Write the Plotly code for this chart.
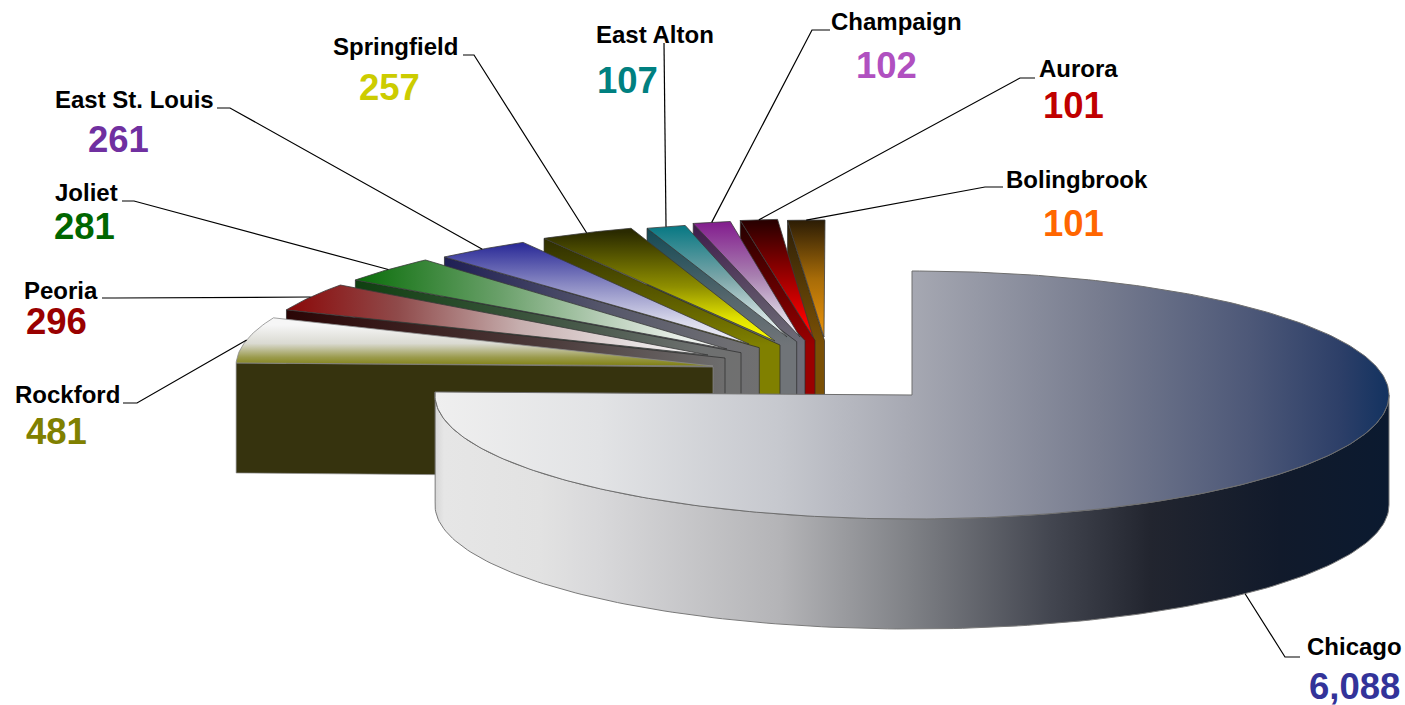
import math
import plotly.graph_objects as go

# ---- data
cities = ["Chicago", "Rockford", "Peoria", "Joliet", "East St. Louis", "Springfield",
          "East Alton", "Champaign", "Aurora", "Bolingbrook"]
values = [6088, 481, 296, 281, 261, 257, 107, 102, 101, 101]
value_labels = ["6,088", "481", "296", "281", "261", "257", "107", "102", "101", "101"]
value_colors = ["#333399", "#808000", "#990000", "#006600", "#7030A0", "#CCCC00",
                "#008080", "#B050C0", "#C00000", "#FF6600"]

# ---- layout of the exploded pie (page pixels)
W, H = 1405, 705
RX, RY, DEPTH = 477, 124, 110
apex = {"Chicago": (912, 395), "Rockford": (713, 366), "Peoria": (726, 358), "Joliet": (741, 353),
        "East St. Louis": (760, 350), "Springfield": (781, 346), "East Alton": (797, 346),
        "Champaign": (805, 344), "Aurora": (815, 343), "Bolingbrook": (825, 344)}
corner = {"Rockford": (713, 367), "Peoria": (725, 358), "Joliet": (741, 352.7), "East St. Louis": (759.3, 347.7),
          "Springfield": (780, 345), "East Alton": (796.7, 341.7), "Champaign": (805, 340.5),
          "Aurora": (815, 340.5), "Bolingbrook": (824.5, 340.5)}
tip = {"Rockford": (713, 366), "Peoria": (708, 355), "Joliet": (727, 349), "East St. Louis": (749, 344),
       "Springfield": (775, 341), "East Alton": (787, 337), "Champaign": (800, 337),
       "Aurora": (813, 337), "Bolingbrook": (824, 337)}
name_pos = {"Chicago": (1354, 646), "Rockford": (67, 394), "Peoria": (61, 290), "Joliet": (86, 192),
            "East St. Louis": (134, 99), "Springfield": (395, 46), "East Alton": (655, 34),
            "Champaign": (896, 21), "Aurora": (1078, 68), "Bolingbrook": (1077, 179)}
value_pos = {"Chicago": (1354, 686), "Rockford": (56, 431), "Peoria": (56, 321), "Joliet": (84, 226),
             "East St. Louis": (118, 139), "Springfield": (389, 87), "East Alton": (627, 80),
             "Champaign": (886, 65), "Aurora": (1073, 105), "Bolingbrook": (1073, 223)}
leader_start = {"Chicago": [(1300, 657), (1285, 657)], "Rockford": [(123, 403), (137, 403)],
                "Peoria": [(102, 298), (115, 298)], "Joliet": [(122, 201), (134, 201)],
                "East St. Louis": [(217, 108), (230, 108)], "Springfield": [(463, 55), (474, 55)],
                "East Alton": [(664, 43)], "Champaign": [(830, 30), (812, 30)],
                "Aurora": [(1035, 78), (1020, 78)], "Bolingbrook": [(1003, 187), (985, 187)]}
# face styles: orientation, start, stop, colour stops
top_style = {
    "Rockford": ("vertical", 325, 366, [(0, "#f6f6f6"), (.45, "#dadad2"), (.78, "#9c9c50"), (1, "#7f7f10")]),
    "Peoria": ("horizontal", 287, 710, [(0, "#8b0808"), (.26, "#8f4a4a"), (.55, "#c6aeae"), (.83, "#e8e2e2"), (1, "#f8f8f8")]),
    "Joliet": ("horizontal", 356, 727, [(0, "#0a6e0a"), (.39, "#6aa06a"), (.66, "#b5ccb5"), (.87, "#e8eee8"), (1, "#f8f8f8")]),
    "East St. Louis": ("vertical", 245, 347, [(0, "#2d2d99"), (.4, "#8c8cc4"), (.75, "#d8d8ea"), (1, "#f6f6fa")]),
    "Springfield": ("vertical", 232, 342, [(0, "#2a2a00"), (.5, "#8f8f00"), (.78, "#e0e000"), (1, "#ffff00")]),
    "East Alton": ("vertical", 228, 340, [(0, "#0b7a85"), (.45, "#7ba5a8"), (.8, "#d0e0e0"), (1, "#f4f8f8")]),
    "Champaign": ("vertical", 224, 340, [(0, "#84208f"), (.45, "#a880b0"), (.8, "#dcd4e2"), (1, "#f6f4f8")]),
    "Aurora": ("vertical", 222, 336, [(0, "#2a0000"), (.5, "#a00000"), (.9, "#ff0000"), (1, "#ff0000")]),
    "Bolingbrook": ("vertical", 220, 338, [(0, "#2b1c05"), (.5, "#a86c08"), (1, "#f0960a")]),
}
wall_style = {
    "Rockford": ("horizontal", 236, 713, [(0, "#36330e"), (1, "#36330e")]),
    "Peoria": ("horizontal", 287, 726, [(0, "#2a0505"), (.6, "#4c3c3c"), (1, "#6e6e6e")]),
    "Joliet": ("horizontal", 356, 741, [(0, "#0f4010"), (.6, "#4a5a4c"), (.9, "#6e7070"), (1, "#707070")]),
    "East St. Louis": ("horizontal", 445, 760, [(0, "#1f1f55"), (.5, "#55566a"), (.9, "#6e6e72"), (1, "#707070")]),
    "Springfield": ("vertical", 238, 345, [(0, "#2e2e00"), (.6, "#5f5f00"), (1, "#808000")]),
    "East Alton": ("vertical", 228, 345, [(0, "#134a55"), (.6, "#55666c"), (1, "#707478")]),
    "Champaign": ("vertical", 224, 345, [(0, "#3e1a4a"), (.6, "#5c4f66"), (1, "#6e6e78")]),
    "Aurora": ("vertical", 222, 345, [(0, "#250000"), (.6, "#6a0000"), (1, "#9a0000")]),
    "Bolingbrook": ("vertical", 220, 345, [(0, "#2b1d08"), (.6, "#5c3e06"), (1, "#7a5005")]),
}
chicago_top = [(436, "#efefef"), (600, "#e2e3e5"), (780, "#c6c8ce"), (912, "#a6a8b2"), (1100, "#777c8f"),
               (1250, "#4d5878"), (1340, "#2d3f68"), (1390, "#123260")]
chicago_side = [(436, "#d8d8d8"), (444, "#e6e6e6"), (540, "#e2e2e2"), (600, "#d8d8da"), (780, "#b4b4b7"), (912, "#7e8085"),
                (1050, "#434650"), (1150, "#22252f"), (1280, "#111a2b"), (1390, "#0b1a30")]

# ---- geometry from the values
total = sum(values)
angles, cum = {}, 0.0
for c, v in zip(cities, values):
    angles[c] = (cum / total * 360, (cum + v) / total * 360)
    cum += v


def pt(city, th):
    ax, ay = apex[city]
    r = math.radians(th)
    return ax + RX * math.sin(r), ay - RY * math.cos(r)


def arc(city, t0, t1, n=80):
    return [pt(city, t0 + (t1 - t0) * i / n) for i in range(n + 1)]


fig = go.Figure()


def outline(points, color, width):
    fig.add_trace(go.Scatter(x=[p[0] for p in points], y=[p[1] for p in points], mode="lines",
                             line=dict(color=color, width=width), hoverinfo="skip", showlegend=False))


def face(poly, style, line_color, line_width=0.8):
    kind, p0, p1, stops = style
    xs = [p[0] for p in poly] + [poly[0][0]]
    ys = [p[1] for p in poly] + [poly[0][1]]
    fig.add_trace(go.Scatter(x=xs, y=ys, mode="lines", fill="toself", hoverinfo="skip", showlegend=False,
                             line=dict(color=line_color, width=line_width),
                             fillgradient=dict(type=kind, start=p0, stop=p1,
                                               colorscale=[[s, c] for s, c in stops])))


# back to front: Bolingbrook ... Rockford, then Chicago
for c in reversed(cities[1:]):
    t0, t1 = angles[c]
    a = corner[c]
    s = pt(c, t0)
    wall = [a, s, (s[0], s[1] + DEPTH), (a[0], a[1] + DEPTH)]
    face(wall, wall_style[c], "#8a8a8a" if c == "Rockford" else "#2a2a2a", 0.7)
    top = [tip[c]] + arc(c, t0, t1, 24)
    face(top, top_style[c], "#8a8a8a" if c == "Rockford" else "#3a3a3a", 0.8)

C = "Chicago"
span = 1390 - 436
side_top = arc(C, 90, angles[C][1], 160)
side = side_top + [(x, y + DEPTH) for x, y in reversed(side_top)]
face(side, ("horizontal", 436, 1390, [((x - 436) / span, col) for x, col in chicago_side]), "#7a7a7a", 1)
top = [apex[C]] + arc(C, 0, angles[C][1], 300)
face(top, ("horizontal", 436, 1390, [((x - 436) / span, col) for x, col in chicago_top]), "#6e6e6e", 1)

# leader lines, ending on the middle of each slice's rim
for c in cities:
    t0, t1 = angles[c]
    e = pt(c, (t0 + t1) / 2)
    if c == C:
        e = (e[0], e[1] + DEPTH)
    outline(leader_start[c] + [e], "#000000", 1.2)

ann = []
for c, lab, col in zip(cities, value_labels, value_colors):
    ann.append(dict(x=name_pos[c][0], y=name_pos[c][1], text="<b>%s</b>" % c, showarrow=False,
                    font=dict(family="Liberation Sans", size=24, color="#000000"),
                    xanchor="center", yanchor="middle"))
    ann.append(dict(x=value_pos[c][0], y=value_pos[c][1], text="<b>%s</b>" % lab, showarrow=False,
                    font=dict(family="Liberation Sans", size=36.5, color=col),
                    xanchor="center", yanchor="middle"))

axis = dict(visible=False, fixedrange=True)
fig.update_layout(width=W, height=H, margin=dict(l=0, r=0, t=0, b=0), autosize=False,
                  paper_bgcolor="white", plot_bgcolor="white", showlegend=False,
                  xaxis=dict(range=[0, W], **axis), yaxis=dict(range=[H, 0], **axis), annotations=ann)
fig.write_html("out.html", config={"displayModeBar": False},
               post_script="document.body.style.margin='0';document.documentElement.style.overflow='hidden';")
